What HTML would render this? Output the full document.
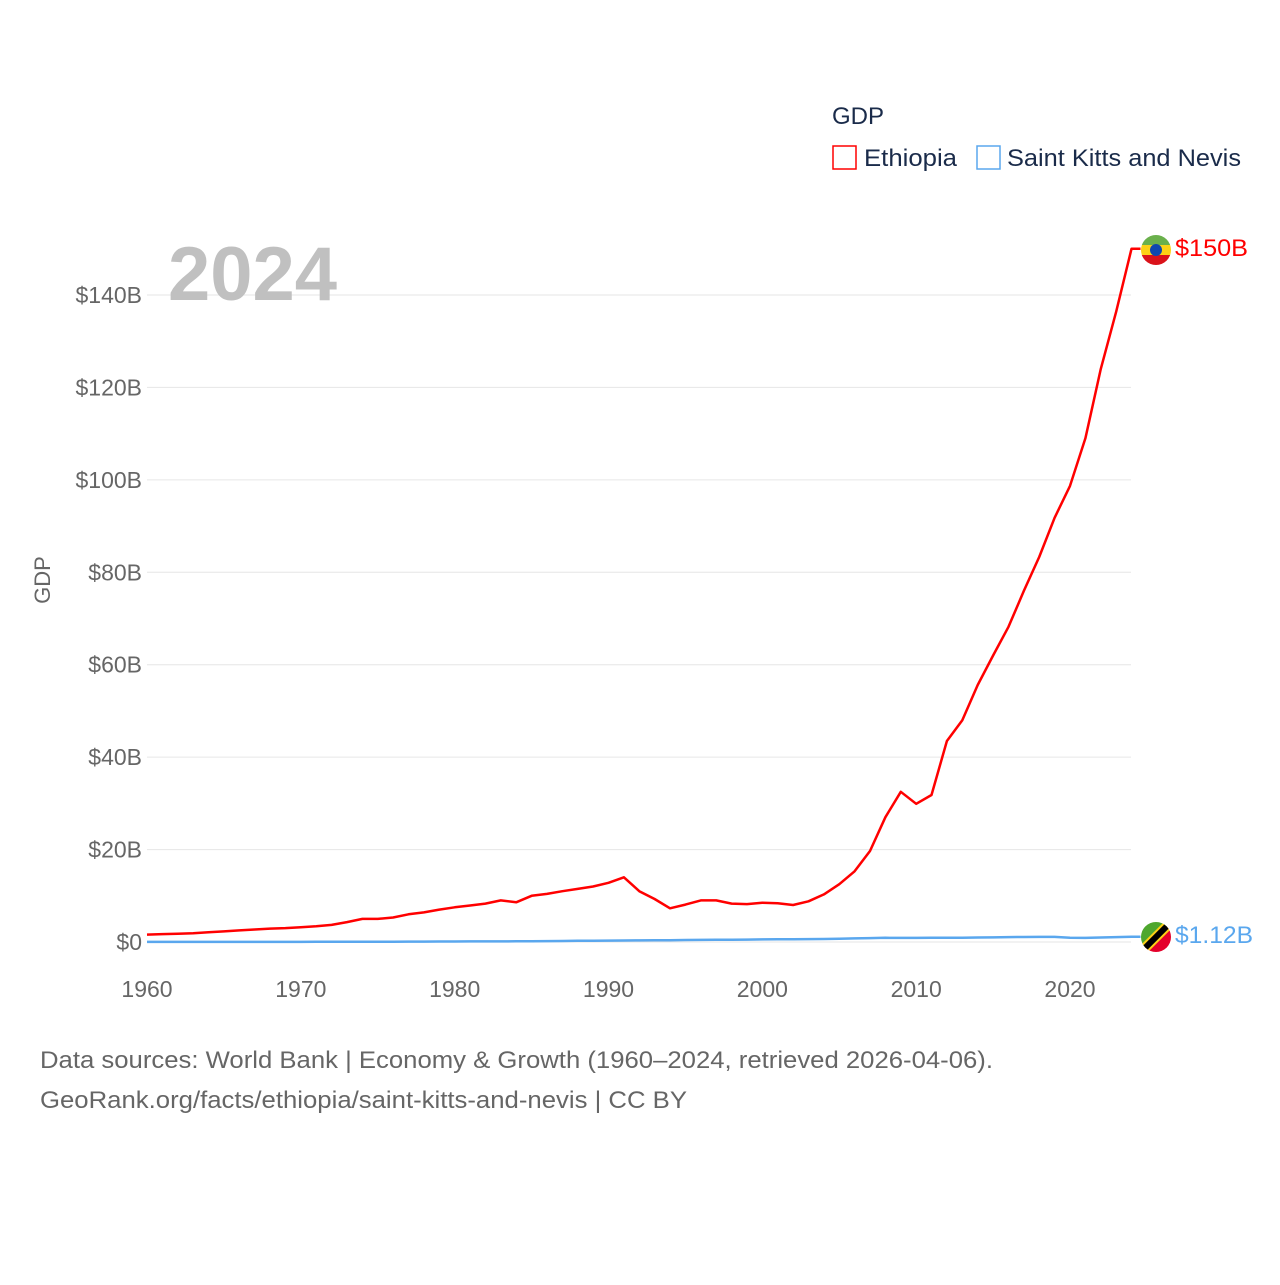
<!DOCTYPE html>
<html><head><meta charset="utf-8"><style>
body{margin:0;background:#fff;width:1280px;height:1280px;overflow:hidden;font-family:"Liberation Sans",sans-serif}
</style></head><body>
<svg width="1280" height="1280" style="font-family:'Liberation Sans',sans-serif">
<g id="grid"></g>
<text x="168" y="300" font-size="76" font-weight="bold" fill="#c0c0c0">2024</text>
<text x="50" y="580" font-size="22" fill="#666" transform="rotate(-90 50 580)" text-anchor="middle">GDP</text>
<text x="832" y="124" font-size="24" fill="#1a2b4a">GDP</text>
<g><rect x="833" y="146" width="23" height="23" fill="none" stroke="#f00" stroke-width="1.5"/><text x="864" y="166" font-size="24" fill="#1a2b4a" textLength="93" lengthAdjust="spacingAndGlyphs">Ethiopia</text></g>
<g><rect x="977" y="146" width="23" height="23" fill="none" stroke="#5aa7ee" stroke-width="1.5"/><text x="1007" y="166" font-size="24" fill="#1a2b4a" textLength="234" lengthAdjust="spacingAndGlyphs">Saint Kitts and Nevis</text></g>
<g id="marks"></g>
<g><clipPath id="c1"><circle cx="1156" cy="250" r="15"/></clipPath><g clip-path="url(#c1)"><rect x="1140" y="234" width="32" height="11" fill="#6ab04c"/><rect x="1140" y="245" width="32" height="10" fill="#fcd116"/><rect x="1140" y="255" width="32" height="12" fill="#da121a"/><circle cx="1156" cy="250" r="6" fill="#0f47af"/></g></g>
<g><clipPath id="c2"><circle cx="1156" cy="937" r="15"/></clipPath><g clip-path="url(#c2)"><polygon points="1140,921 1172,921 1140,953" fill="#4ea72e"/><polygon points="1172,921 1172,953 1140,953" fill="#e4002b"/><line x1="1141" y1="952" x2="1171" y2="922" stroke="#fcd116" stroke-width="10"/><line x1="1141" y1="952" x2="1171" y2="922" stroke="#000" stroke-width="6"/></g></g>
<text x="1175" y="256" font-size="24" fill="#f00" textLength="73" lengthAdjust="spacingAndGlyphs">$150B</text>
<text x="1175" y="943" font-size="24" fill="#5aa7ee" textLength="78" lengthAdjust="spacingAndGlyphs">$1.12B</text>
<text x="40" y="1068" font-size="24" fill="#666" textLength="953" lengthAdjust="spacingAndGlyphs">Data sources: World Bank | Economy &amp; Growth (1960–2024, retrieved 2026-04-06).</text>
<text x="40" y="1108" font-size="24" fill="#666" textLength="647" lengthAdjust="spacingAndGlyphs">GeoRank.org/facts/ethiopia/saint-kitts-and-nevis | CC BY</text>
</svg>
<script>
const years=[];for(let y=1960;y<=2024;y++)years.push(y);
const ethiopia=[1.6,1.7,1.8,1.9,2.1,2.3,2.5,2.7,2.9,3.0,3.2,3.4,3.7,4.3,5.0,5.0,5.3,6.0,6.4,7.0,7.5,7.9,8.3,9.0,8.6,10.0,10.4,11.0,11.5,12.0,12.8,14.0,11.0,9.3,7.3,8.1,9.0,9.0,8.3,8.2,8.5,8.4,8.0,8.8,10.3,12.5,15.3,19.7,27.0,32.5,29.9,31.8,43.5,48.0,55.6,62.0,68.2,76.0,83.3,91.8,98.7,109.0,124.0,136.4,150.0];
const skn=[0.02,0.02,0.02,0.02,0.03,0.03,0.03,0.03,0.03,0.03,0.03,0.04,0.04,0.05,0.06,0.07,0.07,0.08,0.09,0.1,0.1,0.12,0.13,0.14,0.15,0.17,0.19,0.22,0.25,0.28,0.3,0.32,0.35,0.38,0.4,0.43,0.45,0.48,0.5,0.53,0.56,0.58,0.6,0.62,0.65,0.7,0.78,0.85,0.9,0.88,0.88,0.9,0.9,0.92,0.98,1.0,1.05,1.08,1.1,1.1,0.93,0.88,0.98,1.05,1.12];
const yTicks=[0,20,40,60,80,100,120,140];
const xTicks=[1960,1970,1980,1990,2000,2010,2020];
const X=y=>147+(y-1960)*(1070-147)/60;
const Y=v=>942-v*(942-295)/140;
const NS="http://www.w3.org/2000/svg";
const grid=document.getElementById('grid'),marks=document.getElementById('marks');
function mk(tag,attrs,parent){const e=document.createElementNS(NS,tag);for(const k in attrs)e.setAttribute(k,attrs[k]);parent.appendChild(e);return e;}
yTicks.forEach(v=>{
 const l=mk('line',{x1:147,x2:1131,y1:Y(v),y2:Y(v),stroke:'#e6e6e6','stroke-width':1},grid);
 
 
 const t=mk('text',{x:142,y:Y(v)+8,'text-anchor':'end','font-size':23,fill:'#666'},grid);
 t.textContent='$'+v+(v?'B':'');
 
 
});
xTicks.forEach(v=>{
 const t=mk('text',{x:X(v),y:997,'text-anchor':'middle','font-size':23,fill:'#666'},grid);
 t.textContent=v;
 
 
});
function line(data,color,name){
 let d=data.map((v,i)=>(i?'L':'M')+X(years[i]).toFixed(1)+','+Y(v).toFixed(1)).join('');
 d+='L'+(X(years[years.length-1])+9)+','+Y(data[data.length-1]).toFixed(1);
 const p=mk('path',{d:d,fill:'none',stroke:color,'stroke-width':2.5,'stroke-linejoin':'round'},marks);
 
 
}
line(skn,'#5aa7ee','line-saint-kitts-and-nevis');
line(ethiopia,'#ff0000','line-ethiopia');
</script>
</body></html>
